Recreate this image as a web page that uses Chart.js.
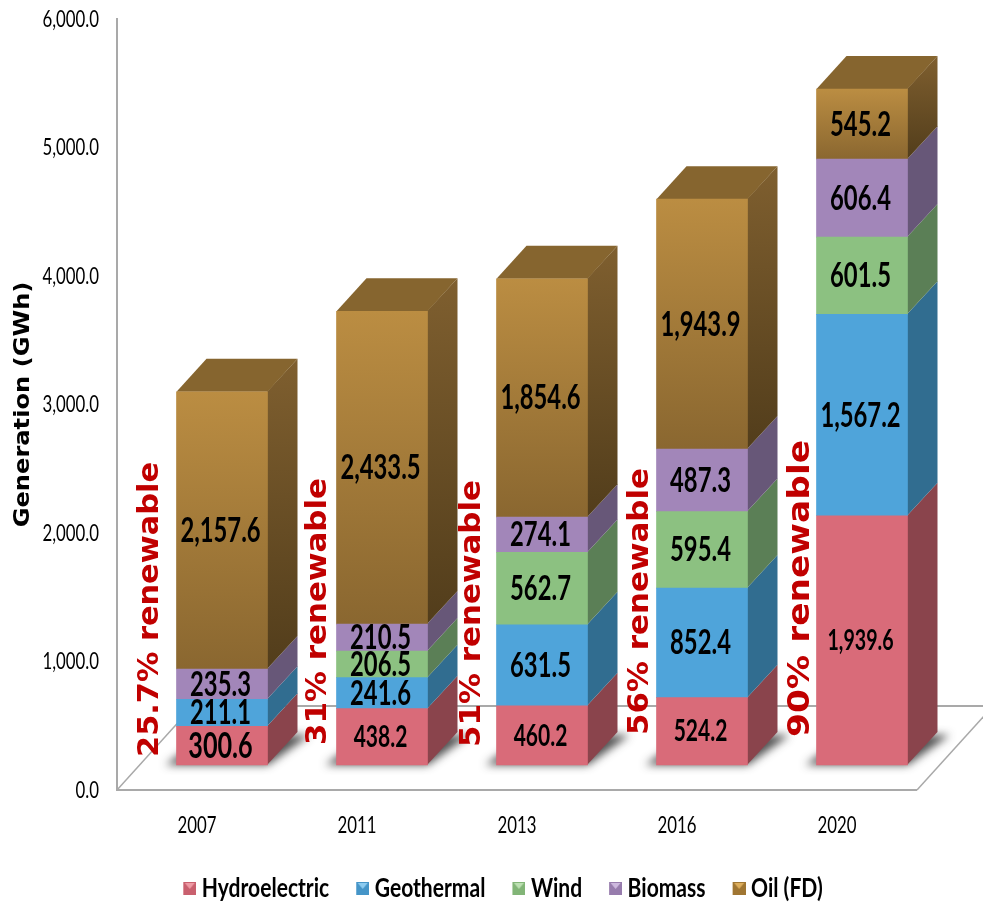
<!DOCTYPE html>
<html><head><meta charset="utf-8">
<style>html,body{margin:0;padding:0;background:#fff;overflow:hidden}#wrap{width:983px;height:903px;position:relative}</style>
<script src="https://cdn.jsdelivr.net/npm/chart.js@4"></script>
</head><body><div id="wrap"><canvas id="c"></canvas></div>
<script>
const years = ['2007','2011','2013','2016','2020'];
const hydroelectric = [300.6,438.2,460.2,524.2,1939.6];
const geothermal = [211.1,241.6,631.5,852.4,1567.2];
const wind = [null,206.5,562.7,595.4,601.5];
const biomass = [235.3,210.5,274.1,487.3,606.4];
const oil = [2157.6,2433.5,1854.6,1943.9,545.2];
const renewableNotes = ['25.7% renewable','31% renewable','51% renewable','56% renewable','90% renewable'];

const NARROW = 'Lato,sans-serif';
const SANS = '"DejaVu Sans",sans-serif';
const TITLE_FAMILY = 'Verdana,"DejaVu Sans",sans-serif';
const DEPTH_X = 30, DEPTH_Y = 33;

const noteStyle = [
 {dx:-18.5, dy:-8, len:295, size:28},
 {dx:-10.5, dy:-20, len:267, size:28},
 {dx:-16.5, dy:-18, len:267, size:28},
 {dx:-8.5, dy:-30, len:267, size:28},
 {dx:-7.5, dy:-28, len:297, size:31}
];
const labelSize = {'300.6':36,'438.2':30,'460.2':30,'524.2':30,'1,939.6':28};

const canvas = document.getElementById('c');
const rawCtx = canvas.getContext('2d');
const origFill = rawCtx.fillText.bind(rawCtx), origMeasure = rawCtx.measureText.bind(rawCtx);
function stretchFor(){
  const f = rawCtx.font;
  if(f.includes('Verdana')) return 1.15;
  if(f.includes('Lato')) return f.startsWith('bold 27px') ? 0.78 : 0.7;
  return 1;
}
rawCtx.fillText = function(t,x,y,m){
  const k = stretchFor();
  if(k===1) return origFill(t,x,y,m);
  rawCtx.save(); rawCtx.translate(x,y); rawCtx.scale(k,1); origFill(t,0,0); rawCtx.restore();
};
rawCtx.measureText = function(t){
  const r = origMeasure(t), k = stretchFor();
  return k!==1 ? {width:r.width*k} : r;
};

function stackTop(i, ds){ let s=0; for(let d=0;d<=ds;d++){ s += (series[d].values[i]||0); } return s; }
const series = [
 {name:'Hydroelectric', values:hydroelectric, face:'#D96B79', side:'#8A444C', mark:'#C9606E', glow:'#EE9AA4'},
 {name:'Geothermal', values:geothermal, face:'#4FA4DA', side:'#316D90', mark:'#4595C8', glow:'#8CCBF0'},
 {name:'Wind', values:wind, face:'#8CC181', side:'#5B7F56', mark:'#82B577', glow:'#BCE0B2'},
 {name:'Biomass', values:biomass, face:'#A286B9', side:'#675778', mark:'#977CAD', glow:'#CDB8DE'},
 {name:'Oil (FD)', values:oil, face:'#A67C38', side:'#6A4F25', mark:'#A07632', glow:'#DDAE5C'}
];
function legendMark(s){
  const m=document.createElement('canvas'); m.width=17; m.height=13;
  const c=m.getContext('2d');
  c.fillStyle=s.mark; c.fillRect(4,0,13,13);
  c.fillStyle=s.glow; c.beginPath(); c.moveTo(5.5,1); c.lineTo(15.5,1); c.lineTo(10.5,7); c.closePath(); c.fill();
  return m;
}
function oilFace(c){
  const chart=c.chart; if(!chart.chartArea||c.dataIndex===undefined) return '#A67C38';
  const y=chart.scales.y2, i=c.dataIndex;
  const t=y.getPixelForValue(stackTop(i,4)), b=y.getPixelForValue(stackTop(i,3));
  const g=chart.ctx.createLinearGradient(0,t,0,b);
  g.addColorStop(0,'#BB8D42'); g.addColorStop(1,'#8A6730'); return g;
}
const box3d = {
  id:'box3d',
  afterLayout(chart){ chart.legend.left += 34; chart.legend.right += 34; },
  beforeDatasetsDraw(chart){
    const {ctx,scales:{x,y}} = chart;
    const y0=y.getPixelForValue(0), xl=x.left-25, xr=x.right-25;
    const fx=76, fy=84;
    ctx.save();
    ctx.strokeStyle='#A9A9A9'; ctx.lineWidth=2;
    ctx.beginPath(); ctx.moveTo(xl,y.top-1); ctx.lineTo(xl,y0); ctx.lineTo(xr,y0); ctx.stroke();
    ctx.beginPath(); ctx.moveTo(xl+fx,y0-fy); ctx.lineTo(983,y0-fy); ctx.stroke();
    ctx.lineWidth=1.5;
    ctx.beginPath(); ctx.moveTo(xl,y0); ctx.lineTo(xl+fx,y0-fy); ctx.stroke();
    ctx.beginPath(); ctx.moveTo(xr,y0); ctx.lineTo(xr+fx,y0-fy); ctx.stroke();
    ctx.restore();
    const first=chart.getDatasetMeta(0);
    first.data.forEach(el=>{
      const l=el.x-el.width/2, r=el.x+el.width/2, b=el.base;
      ctx.save();
      ctx.shadowColor='rgba(50,50,50,0.85)'; ctx.shadowBlur=9;
      ctx.shadowOffsetX=2000;
      ctx.fillStyle='#000';
      ctx.beginPath();
      ctx.moveTo(l-11-2000,b); ctx.lineTo(r-2000,b); ctx.lineTo(r+DEPTH_X+12-2000,b-DEPTH_Y+3); ctx.lineTo(l+DEPTH_X-2000,b-DEPTH_Y+3);
      ctx.closePath(); ctx.fill();
      ctx.restore();
    });
    series.forEach((s,d)=>{
      chart.getDatasetMeta(d).data.forEach((el,i)=>{
        if(s.values[i]==null) return;
        const r=el.x+el.width/2, l=el.x-el.width/2, t=el.y, b=el.base;
        let fill=s.side;
        if(d===4){
          const g=ctx.createLinearGradient(0,t-DEPTH_Y,0,b);
          g.addColorStop(0,'#7F5F2F'); g.addColorStop(1,'#523D1B'); fill=g;
        }
        ctx.fillStyle=fill;
        ctx.beginPath();
        ctx.moveTo(r-0.5,t); ctx.lineTo(r+DEPTH_X,t-DEPTH_Y); ctx.lineTo(r+DEPTH_X,b-DEPTH_Y); ctx.lineTo(r-0.5,b);
        ctx.closePath(); ctx.fill();
        if(d===4){
          ctx.fillStyle='#86652F';
          ctx.beginPath();
          ctx.moveTo(l,t); ctx.lineTo(l+DEPTH_X,t-DEPTH_Y); ctx.lineTo(r+DEPTH_X,t-DEPTH_Y); ctx.lineTo(r,t);
          ctx.closePath(); ctx.fill();
        }
      });
    });
  },
  afterDatasetsDraw(chart){
    const {ctx,scales:{x,y2}} = chart;
    ctx.save();
    ctx.textAlign='center'; ctx.textBaseline='middle'; ctx.fillStyle='#000';
    series.forEach((s,d)=>{
      chart.getDatasetMeta(d).data.forEach((el,i)=>{
        const v=s.values[i]; if(v==null) return;
        const txt=v.toLocaleString('en-US',{minimumFractionDigits:1,maximumFractionDigits:1});
        const size=labelSize[txt]||34;
        ctx.font='bold '+size+'px '+NARROW;
        ctx.fillText(txt,el.x-1.5,(el.y+el.base)/2+0.5);
      });
    });
    ctx.restore();
    renewableNotes.forEach((t,i)=>{
      const st=noteStyle[i];
      const px=x.getPixelForValue(i)-45.5+st.dx, py=y2.getPixelForValue(0)+st.dy;
      ctx.save();
      ctx.translate(px,py); ctx.rotate(-Math.PI/2);
      ctx.font='bold '+st.size+'px '+SANS; ctx.fillStyle='#C00000';
      ctx.textAlign='left'; ctx.textBaseline='alphabetic';
      const w=ctx.measureText(t).width;
      ctx.scale(st.len/w,1);
      ctx.fillText(t,0,0);
      ctx.restore();
    });
  }
};
new Chart(canvas,{
  type:'bar',
  data:{labels:years,datasets:series.map((s,d)=>({
    label:s.name,data:s.values,xAxisID:'x',yAxisID:'y2',
    backgroundColor:d===4?oilFace:s.face,barThickness:91,borderWidth:0
  }))},
  options:{
    responsive:true,maintainAspectRatio:false,animation:false,
    layout:{padding:{top:19,left:0,right:41,bottom:-9}},
    plugins:{
      tooltip:{enabled:false},
      legend:{position:'bottom',labels:{
        font:{family:NARROW,size:27,weight:'bold'},color:'#000',
        usePointStyle:true,boxWidth:1,boxHeight:13,padding:31,
        generateLabels:()=>series.map((s,d)=>({text:s.name,fillStyle:s.face,strokeStyle:s.face,lineWidth:0,pointStyle:legendMark(s),datasetIndex:d}))
      }}
    },
    scales:{
      x:{stacked:true,grid:{display:false},border:{display:false},
        ticks:{labelOffset:-25,padding:13,maxRotation:0,color:'#000',font:{family:NARROW,size:24}},
        afterFit(s){s.height=54;s.paddingLeft=0;s.paddingRight=0;}},
      y:{min:0,max:6000,position:'left',grid:{display:false},border:{display:false},
        ticks:{stepSize:1000,padding:35,color:'#000',font:{family:NARROW,size:24},
          callback:v=>v.toLocaleString('en-US',{minimumFractionDigits:1,maximumFractionDigits:1})},
        title:{display:true,text:'Generation (GWh)',color:'#000',font:{family:TITLE_FAMILY,size:21,weight:'bold'},padding:{top:11,bottom:0}},
        afterFit(s){s.width=142;s.paddingTop=0;s.paddingBottom=0;}},
      y2:{display:false,stacked:true,min:-194.6,max:5805.4}
    }
  },
  plugins:[box3d]
});
</script></body></html>
